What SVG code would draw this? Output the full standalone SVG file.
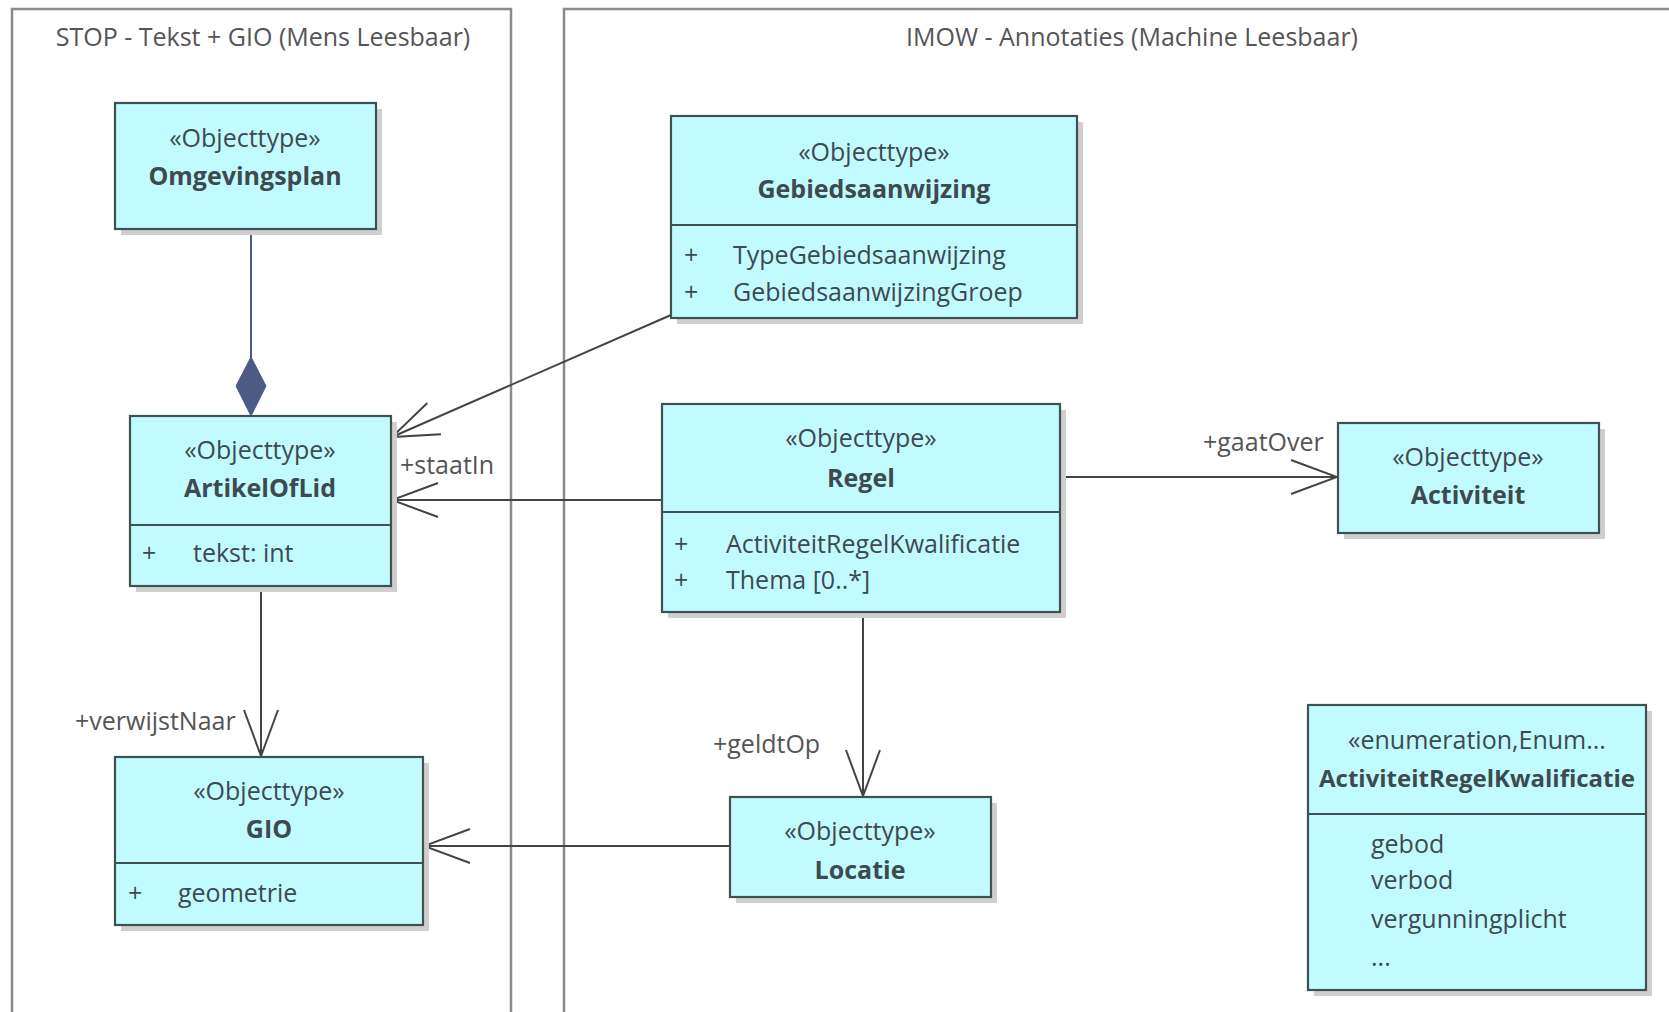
<svg xmlns="http://www.w3.org/2000/svg" width="1669" height="1012" viewBox="0 0 1669 1012">
<style>
text{font-family:"Open Sans","Noto Sans","DejaVu Sans",sans-serif;font-size:25px;fill:#3d4a50}
.pk{fill:none;stroke:#8a8a8a;stroke-width:2.5}
.pt{fill:#555;text-anchor:middle}
.box{fill:#c2fbff;stroke:#3f5252;stroke-width:2.2}
.sh{fill:#cfcfcf}
.div{stroke:#3f5252;stroke-width:2.2}
.st{text-anchor:middle}
.nm{text-anchor:middle;font-weight:bold}
.lbl{fill:#555}
.ln{fill:none;stroke:#444;stroke-width:2}
</style>
<defs>
<marker id="open" markerWidth="50" markerHeight="40" viewBox="-48 -20 50 40" refX="0" refY="0" orient="auto" markerUnits="userSpaceOnUse">
<path d="M-46,-17 L0,0 L-46,17" fill="none" stroke="#444" stroke-width="2"/>
</marker>
</defs>
<rect width="1669" height="1012" fill="#ffffff"/>
<g id="pkg-stop">
<path class="pk" d="M12,1012 V9 H511 V1012"/>
<text class="pt" x="263" y="46">STOP - Tekst + GIO (Mens Leesbaar)</text>
</g>
<g id="pkg-imow">
<path class="pk" d="M564,1012 V9 H1669"/>
<text class="pt" x="1132" y="46">IMOW - Annotaties (Machine Leesbaar)</text>
</g>
<g id="connectors">
<line x1="251" y1="229" x2="251" y2="360" stroke="#4d5a85" stroke-width="2"/>
<path d="M251,357 L266,386 L251,416 L236,386 Z" fill="#4d5a85" stroke="#4d5a85" stroke-width="1"/>
<line class="ln" x1="671" y1="315" x2="392" y2="437" marker-end="url(#open)"/>
<line class="ln" x1="662" y1="500" x2="392" y2="500" marker-end="url(#open)"/>
<text class="lbl" x="400" y="474">+staatIn</text>
<line class="ln" x1="1060" y1="477" x2="1337" y2="477" marker-end="url(#open)"/>
<text class="lbl" x="1203" y="451">+gaatOver</text>
<line class="ln" x1="863" y1="612" x2="863" y2="796" marker-end="url(#open)"/>
<text class="lbl" x="713" y="753">+geldtOp</text>
<line class="ln" x1="261" y1="586" x2="261" y2="756" marker-end="url(#open)"/>
<text class="lbl" x="75" y="730">+verwijstNaar</text>
<line class="ln" x1="730" y1="846" x2="424" y2="846" marker-end="url(#open)"/>
</g>
<g id="node-omgevingsplan">
<rect class="sh" x="121" y="109" width="261" height="126"/>
<rect class="box" x="115" y="103" width="261" height="126"/>
<text class="st" x="245" y="147">«Objecttype»</text>
<text class="nm" x="245" y="185">Omgevingsplan</text>
</g>
<g id="node-gebiedsaanwijzing">
<rect class="sh" x="677" y="122" width="406" height="202"/>
<rect class="box" x="671" y="116" width="406" height="202"/>
<line class="div" x1="671" y1="225" x2="1077" y2="225"/>
<text class="st" x="874" y="161">«Objecttype»</text>
<text class="nm" x="874" y="198">Gebiedsaanwijzing</text>
<text x="684" y="264">+</text><text x="733" y="264">TypeGebiedsaanwijzing</text>
<text x="684" y="301">+</text><text x="733" y="301">GebiedsaanwijzingGroep</text>
</g>
<g id="node-artikelofLid">
<rect class="sh" x="136" y="422" width="261" height="170"/>
<rect class="box" x="130" y="416" width="261" height="170"/>
<line class="div" x1="130" y1="525" x2="391" y2="525"/>
<text class="st" x="260" y="459">«Objecttype»</text>
<text class="nm" x="260" y="497">ArtikelOfLid</text>
<text x="142" y="562">+</text><text x="193" y="562">tekst: int</text>
</g>
<g id="node-regel">
<rect class="sh" x="668" y="410" width="398" height="208"/>
<rect class="box" x="662" y="404" width="398" height="208"/>
<line class="div" x1="662" y1="512" x2="1060" y2="512"/>
<text class="st" x="861" y="447">«Objecttype»</text>
<text class="nm" x="861" y="487">Regel</text>
<text x="674" y="553">+</text><text x="726" y="553">ActiviteitRegelKwalificatie</text>
<text x="674" y="589">+</text><text x="726" y="589">Thema [0..*]</text>
</g>
<g id="node-activiteit">
<rect class="sh" x="1344" y="429" width="261" height="110"/>
<rect class="box" x="1338" y="423" width="261" height="110"/>
<text class="st" x="1468" y="466">«Objecttype»</text>
<text class="nm" x="1468" y="504">Activiteit</text>
</g>
<g id="node-gio">
<rect class="sh" x="121" y="763" width="308" height="168"/>
<rect class="box" x="115" y="757" width="308" height="168"/>
<line class="div" x1="115" y1="863" x2="423" y2="863"/>
<text class="st" x="269" y="800">«Objecttype»</text>
<text class="nm" x="269" y="838">GIO</text>
<text x="128" y="902">+</text><text x="178" y="902">geometrie</text>
</g>
<g id="node-locatie">
<rect class="sh" x="736" y="803" width="261" height="100"/>
<rect class="box" x="730" y="797" width="261" height="100"/>
<text class="st" x="860" y="840">«Objecttype»</text>
<text class="nm" x="860" y="879">Locatie</text>
</g>
<g id="node-activiteitregelkwalificatie">
<rect class="sh" x="1314" y="711" width="338" height="285"/>
<rect class="box" x="1308" y="705" width="338" height="285"/>
<line class="div" x1="1308" y1="814" x2="1646" y2="814"/>
<text class="st" x="1477" y="749">«enumeration,Enum...</text>
<text class="nm" x="1477" y="787" style="font-size:24px">ActiviteitRegelKwalificatie</text>
<text x="1371" y="853">gebod</text>
<text x="1371" y="889">verbod</text>
<text x="1371" y="928">vergunningplicht</text>
<text x="1371" y="966">...</text>
</g>
</svg>
